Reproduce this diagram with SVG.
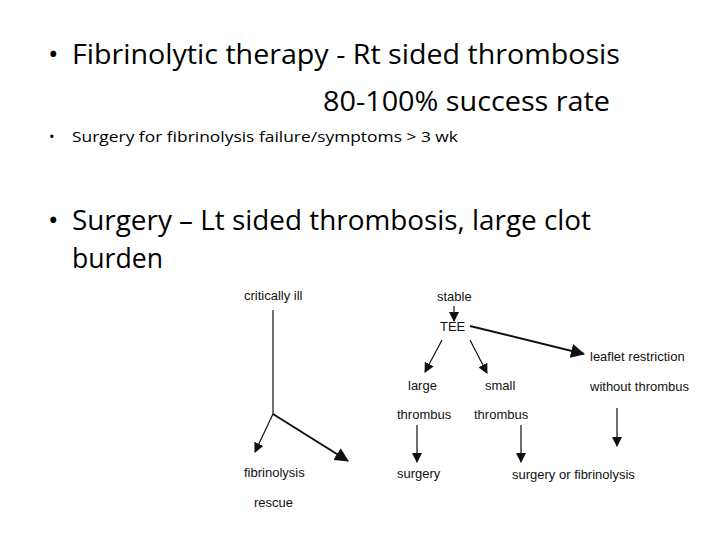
<svg xmlns="http://www.w3.org/2000/svg" width="720" height="540" viewBox="0 0 720 540">
<style>
.big{font-family:"Open Sans","Liberation Sans",sans-serif;font-size:28px;fill:#000}
.sm{font-family:"Open Sans","Liberation Sans",sans-serif;font-size:15px;fill:#000}
.d{font-family:"Liberation Sans",Arial,sans-serif;font-size:13px;fill:#111}
.ln{stroke:#111;stroke-width:1.2;fill:none}
.tk{stroke:#111;stroke-width:2;fill:none}
</style>
<defs>
<marker id="ah" markerWidth="10" markerHeight="10" refX="9" refY="5" orient="auto" markerUnits="userSpaceOnUse"><path d="M0,0 L10,5 L0,10 z" fill="#111"/></marker>
<marker id="ahb" markerWidth="14" markerHeight="14" refX="13" refY="7" orient="auto" markerUnits="userSpaceOnUse"><path d="M0,0 L14,7 L0,14 z" fill="#111"/></marker>
</defs>
<rect width="720" height="540" fill="#fff"/>
<g id="text">
<text class="big" x="48" y="64">•</text>
<text class="big" x="72" y="64" textLength="548" lengthAdjust="spacingAndGlyphs">Fibrinolytic  therapy -  Rt sided thrombosis</text>
<text class="big" x="323" y="111" textLength="287" lengthAdjust="spacingAndGlyphs">80-100% success rate</text>
<text class="sm" x="49" y="142">•</text>
<text class="sm" x="72" y="142" textLength="386" lengthAdjust="spacingAndGlyphs">Surgery for fibrinolysis failure/symptoms &gt; 3 wk</text>
<text class="big" x="48" y="230">•</text>
<text class="big" x="72" y="230" textLength="519" lengthAdjust="spacingAndGlyphs">Surgery – Lt sided thrombosis, large clot</text>
<text class="big" x="72" y="268" textLength="91" lengthAdjust="spacingAndGlyphs">burden</text>
</g>
<g id="n-critically"><text class="d" x="244" y="300">critically ill</text></g>
<g id="n-fibrinolysis"><text class="d" x="244" y="477">fibrinolysis</text><text class="d" x="254" y="507">rescue</text></g>
<g id="n-stable"><text class="d" x="437" y="301">stable</text></g>
<g id="n-tee"><text class="d" x="440" y="331">TEE</text></g>
<g id="n-leaflet"><text class="d" x="590" y="361">leaflet restriction</text><text class="d" x="590" y="391">without thrombus</text></g>
<g id="n-large"><text class="d" x="408" y="390">large</text><text class="d" x="397" y="419">thrombus</text></g>
<g id="n-small"><text class="d" x="485" y="390">small</text><text class="d" x="474" y="419">thrombus</text></g>
<g id="n-surgery"><text class="d" x="397" y="478">surgery</text></g>
<g id="n-surgfib"><text class="d" x="512" y="479">surgery or fibrinolysis</text></g>
<g id="connectors">
<path class="ln" d="M273,310 L273,414"/>
<path class="ln" d="M273,414 L255,452" marker-end="url(#ah)"/>
<path class="tk" d="M273,414 L348,461" marker-end="url(#ahb)"/>
<path class="ln" d="M454,306 L454,321" marker-end="url(#ah)"/>
<path class="tk" d="M470,326 L584,354" marker-end="url(#ahb)"/>
<path class="ln" d="M442,340 L425,372" marker-end="url(#ah)"/>
<path class="ln" d="M470,340 L487,373" marker-end="url(#ah)"/>
<path class="ln" d="M417,425 L417,462" marker-end="url(#ah)"/>
<path class="ln" d="M521,425 L521,462" marker-end="url(#ah)"/>
<path class="ln" d="M617,408 L617,446" marker-end="url(#ah)"/>
</g>
</svg>
